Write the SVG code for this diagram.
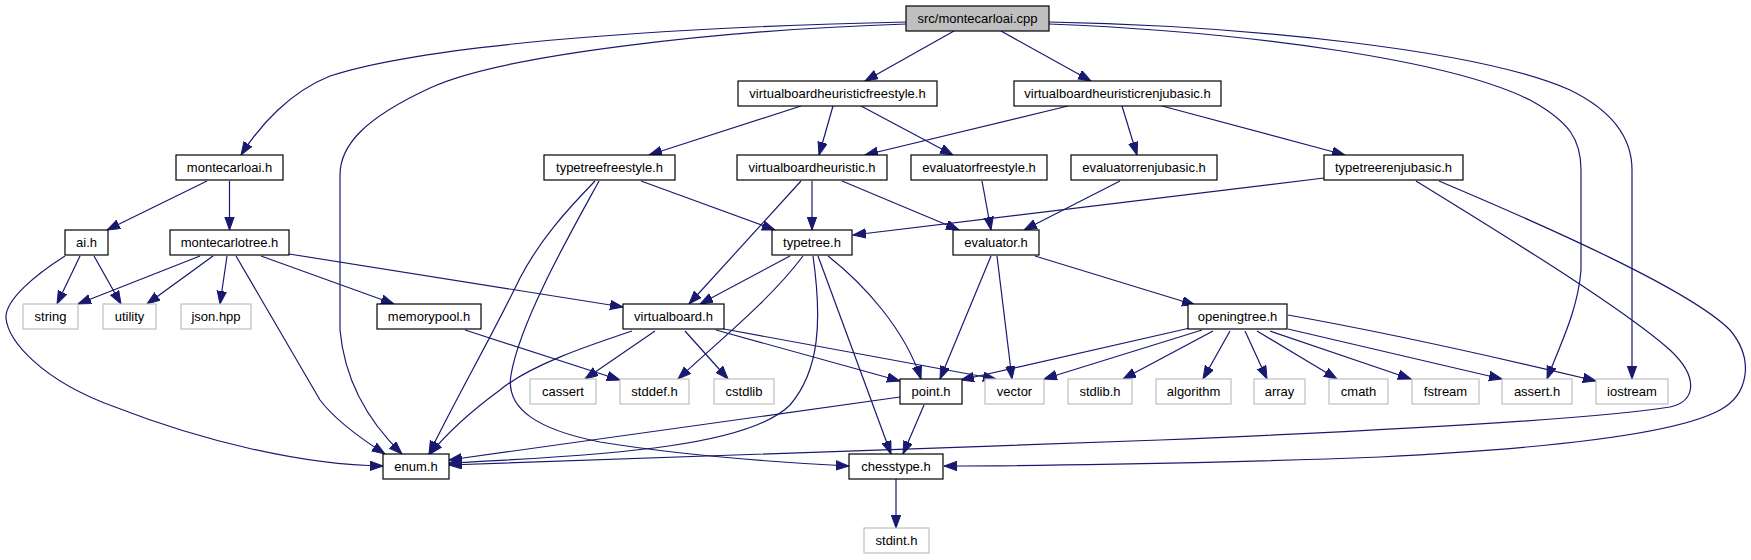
<svg xmlns="http://www.w3.org/2000/svg" width="1751" height="560" viewBox="0 0 1751 560">
<style>
.n rect{fill:#fff;stroke:#000;stroke-width:1.2}
.s rect{fill:#fff;stroke:#bfbfbf;stroke-width:1.2}
.r rect{fill:#bfbfbf;stroke:#000;stroke-width:1.2}
text{font-family:"Liberation Sans",Arial,Helvetica,sans-serif;font-size:13px;text-anchor:middle;fill:#000}
#edges path{fill:none;stroke:#191970;stroke-width:1.2;marker-end:url(#a)}
</style>
<defs>
<marker id="a" markerWidth="14" markerHeight="11" refX="13" refY="5" orient="auto" markerUnits="userSpaceOnUse">
<path d="M0,0.3 L13,5 L0,9.7 z" fill="#191970" stroke="#191970" stroke-width="1"/>
</marker>
</defs>
<rect width="1751" height="560" fill="#fff"/>
<g id="edges">
<path d="M906,22 C720,26 440,40 330,76 C290,92 260,125 241,155"/>
<path d="M906,24 C720,30 500,55 430,88 C365,118 340,145 340,175 L340,330 C345,385 372,425 402,454"/>
<path d="M954,31 L865,81"/>
<path d="M1001,31 L1091,81"/>
<path d="M1049,22 C1250,26 1480,50 1570,90 C1615,112 1632,140 1632,170 L1632,379"/>
<path d="M1049,24 C1250,32 1450,60 1530,100 C1570,122 1581,140 1581,170 L1581,270 C1578,310 1560,345 1547,379"/>
<path d="M801,106 L649,155"/>
<path d="M833,106 L819,155"/>
<path d="M861,106 L953,155"/>
<path d="M1068,106 L865,155"/>
<path d="M1122,106 L1137,155"/>
<path d="M1162,106 L1345,155"/>
<path d="M207,181 L107,230"/>
<path d="M229.5,181 L229.5,230"/>
<path d="M641,181 L775,230"/>
<path d="M595,181 C565,212 540,240 520,278 C490,340 455,400 429,454"/>
<path d="M599,181 C575,225 520,320 511,375 C505,410 540,430 600,442 C680,455 770,462 849,466"/>
<path d="M812,181 L812,230"/>
<path d="M842,181 L959,230"/>
<path d="M801,181 L689,304"/>
<path d="M790,256 L700,304"/>
<path d="M803,256 C770,300 720,340 678,379"/>
<path d="M813,256 C822,320 820,370 790,405 C750,445 620,455 449,463"/>
<path d="M818,256 L891,454"/>
<path d="M828,256 C865,285 905,330 921,379"/>
<path d="M982,181 L991,230"/>
<path d="M1120,181 L1024,230"/>
<path d="M1324,178 L853,235"/>
<path d="M1416,181 C1520,245 1625,310 1670,350 C1700,378 1695,402 1670,407 C1600,418 1400,430 1160,440 C900,450 600,458 449,465"/>
<path d="M1439,181 C1550,228 1690,290 1730,330 C1755,360 1748,395 1720,410 C1680,432 1560,448 1380,457 C1200,464 1000,466 944,466"/>
<path d="M200,256 L78,304"/>
<path d="M213,256 L147,304"/>
<path d="M227,256 L220,304"/>
<path d="M236,256 L320,400 C335,420 360,438 385,454"/>
<path d="M261,256 L394,304"/>
<path d="M289,254 L623,307"/>
<path d="M80,256 L57,304"/>
<path d="M94,256 L121,304"/>
<path d="M65,256 C35,275 5,300 6,318 C8,340 40,380 115,407 C200,440 300,465 383,466"/>
<path d="M465,330 L620,380"/>
<path d="M655,331 L585,379"/>
<path d="M632,331 C590,345 530,365 500,390 C470,412 448,432 430,454"/>
<path d="M685,331 L728,379"/>
<path d="M716,330 L900,381"/>
<path d="M724,329 L996,379"/>
<path d="M924,405 L903,454"/>
<path d="M900,397 L449,460"/>
<path d="M1035,256 L1195,305"/>
<path d="M991,256 L940,379"/>
<path d="M997,256 L1012,379"/>
<path d="M1190,328 L961,380"/>
<path d="M1202,330 L1044,379"/>
<path d="M1213,331 L1123,379"/>
<path d="M1230,331 L1203,379"/>
<path d="M1245,331 L1267,379"/>
<path d="M1257,331 L1337,379"/>
<path d="M1270,331 L1411,379"/>
<path d="M1288,329 L1502,379"/>
<path d="M1288,315 C1400,335 1500,358 1596,381"/>
<path d="M896,479 L896,528"/>
</g>
<g id="cpp" class="r"><rect x="906" y="6" width="143" height="25"/><text x="977.5" y="23">src/montecarloai.cpp</text></g>
<g id="vbhf" class="n"><rect x="738" y="81" width="199" height="25"/><text x="837.5" y="98">virtualboardheuristicfreestyle.h</text></g>
<g id="vbhr" class="n"><rect x="1014" y="81" width="207" height="25"/><text x="1117.5" y="98">virtualboardheuristicrenjubasic.h</text></g>
<g id="montecarloai" class="n"><rect x="176" y="155" width="107" height="25"/><text x="229.5" y="172">montecarloai.h</text></g>
<g id="typetreefreestyle" class="n"><rect x="544" y="155" width="131" height="25"/><text x="609.5" y="172">typetreefreestyle.h</text></g>
<g id="vbh" class="n"><rect x="737" y="155" width="150" height="25"/><text x="812" y="172">virtualboardheuristic.h</text></g>
<g id="evaluatorfreestyle" class="n"><rect x="911" y="155" width="136" height="25"/><text x="979" y="172">evaluatorfreestyle.h</text></g>
<g id="evaluatorrenjubasic" class="n"><rect x="1071" y="155" width="146" height="25"/><text x="1144" y="172">evaluatorrenjubasic.h</text></g>
<g id="typetreerenjubasic" class="n"><rect x="1324" y="155" width="139" height="25"/><text x="1393.5" y="172">typetreerenjubasic.h</text></g>
<g id="ai" class="n"><rect x="65" y="230" width="43" height="25"/><text x="86.5" y="247">ai.h</text></g>
<g id="montecarlotree" class="n"><rect x="170" y="230" width="119" height="25"/><text x="229.5" y="247">montecarlotree.h</text></g>
<g id="typetree" class="n"><rect x="772" y="230" width="80" height="25"/><text x="812" y="247">typetree.h</text></g>
<g id="evaluator" class="n"><rect x="953" y="230" width="86" height="25"/><text x="996" y="247">evaluator.h</text></g>
<g id="string" class="s"><rect x="23" y="304" width="55" height="25"/><text x="50.5" y="321">string</text></g>
<g id="utility" class="s"><rect x="103" y="304" width="53" height="25"/><text x="129.5" y="321">utility</text></g>
<g id="json" class="s"><rect x="181" y="304" width="70" height="25"/><text x="216" y="321">json.hpp</text></g>
<g id="memorypool" class="n"><rect x="377" y="304" width="104" height="25"/><text x="429" y="321">memorypool.h</text></g>
<g id="virtualboard" class="n"><rect x="623" y="304" width="101" height="25"/><text x="673.5" y="321">virtualboard.h</text></g>
<g id="openingtree" class="n"><rect x="1188" y="304" width="99" height="25"/><text x="1237.5" y="321">openingtree.h</text></g>
<g id="cassert" class="s"><rect x="530" y="379" width="66" height="25"/><text x="563" y="396">cassert</text></g>
<g id="stddef" class="s"><rect x="620" y="379" width="69" height="25"/><text x="654.5" y="396">stddef.h</text></g>
<g id="cstdlib" class="s"><rect x="714" y="379" width="60" height="25"/><text x="744" y="396">cstdlib</text></g>
<g id="point" class="n"><rect x="900" y="379" width="62" height="25"/><text x="931" y="396">point.h</text></g>
<g id="vector" class="s"><rect x="985" y="379" width="59" height="25"/><text x="1014.5" y="396">vector</text></g>
<g id="stdlib" class="s"><rect x="1068" y="379" width="64" height="25"/><text x="1100" y="396">stdlib.h</text></g>
<g id="algorithm" class="s"><rect x="1156" y="379" width="75" height="25"/><text x="1193.5" y="396">algorithm</text></g>
<g id="array" class="s"><rect x="1254" y="379" width="51" height="25"/><text x="1279.5" y="396">array</text></g>
<g id="cmath" class="s"><rect x="1329" y="379" width="59" height="25"/><text x="1358.5" y="396">cmath</text></g>
<g id="fstream" class="s"><rect x="1412" y="379" width="67" height="25"/><text x="1445.5" y="396">fstream</text></g>
<g id="assert" class="s"><rect x="1502" y="379" width="70" height="25"/><text x="1537" y="396">assert.h</text></g>
<g id="iostream" class="s"><rect x="1596" y="379" width="72" height="25"/><text x="1632" y="396">iostream</text></g>
<g id="enum" class="n"><rect x="383" y="454" width="66" height="25"/><text x="416" y="471">enum.h</text></g>
<g id="chesstype" class="n"><rect x="849" y="454" width="94" height="25"/><text x="896" y="471">chesstype.h</text></g>
<g id="stdint" class="s"><rect x="864" y="528" width="65" height="25"/><text x="896.5" y="545">stdint.h</text></g>
</svg>
